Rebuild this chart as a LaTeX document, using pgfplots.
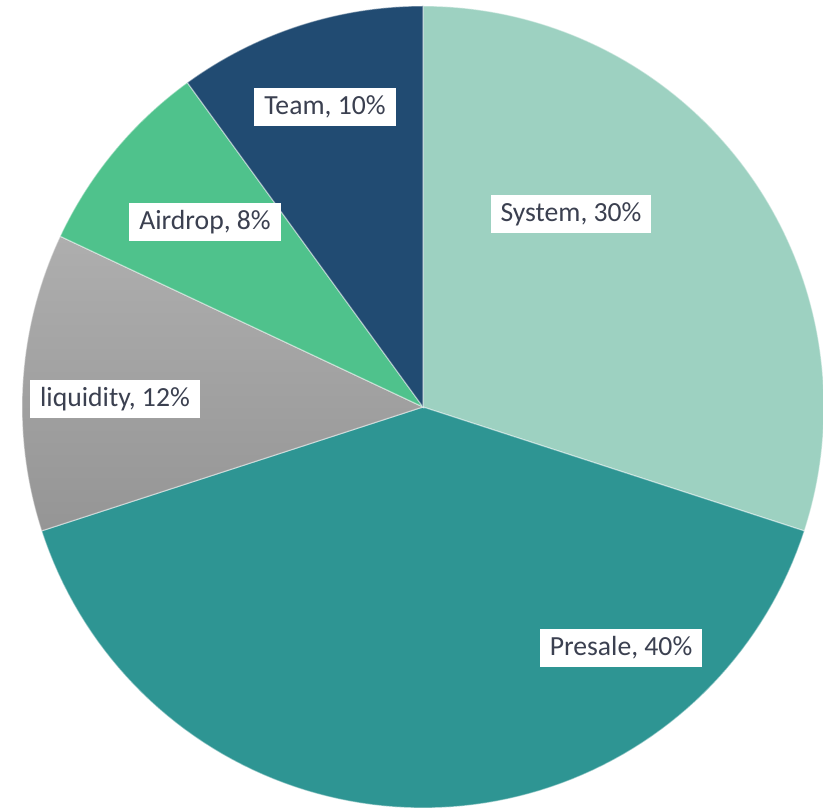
\documentclass[border=0pt]{standalone}
\usepackage{pgfplots}
\pgfplotsset{compat=1.18}
\usepackage{fontspec}
\setmainfont{Carlito}

\definecolor{cSystem}{HTML}{9DD1C1}
\definecolor{cPresale}{HTML}{2E9593}
\definecolor{cLiqTop}{HTML}{AEAEAE}
\definecolor{cLiqBot}{HTML}{959595}
\definecolor{cAirdrop}{HTML}{4FC28C}
\definecolor{cTeam}{HTML}{214B72}
\definecolor{cText}{HTML}{3B4050}

% pie centre and radius, in pixel units of the axis
\def\cx{423}
\def\cy{404}
\def\rr{401}

% #1 share before this slice, #2 share of the slice, #3 fill options
\newcommand{\slice}[3]{%
  \pgfmathsetmacro\aA{90-3.6*#1}%
  \pgfmathsetmacro\aB{90-3.6*(#1+#2)}%
  \edef\tmp{\noexpand\addplot[#3, draw=white, draw opacity=0.45, line width=0.35pt,
    domain=\aB:\aA, samples=90, variable=\noexpand\t]
    ({\cx+\rr*cos(\noexpand\t)},{\cy+\rr*sin(\noexpand\t)}) -- (\cx,\cy) -- cycle;}%
  \tmp
}

\tikzset{lbl/.style={fill=white, text=cText, inner xsep=3pt, inner ysep=2.2pt,
  font=\fontsize{8.3pt}{9pt}\selectfont}}

\begin{document}
\begin{tikzpicture}
\begin{axis}[
    hide axis,
    scale only axis,
    width=246.9pt, height=243.3pt,
    xmin=0, xmax=823, ymin=0, ymax=811,
  ]
  % System 30, Presale 40, liquidity 12, Airdrop 8, Team 10
  \slice{0}{30}{fill=cSystem}
  \slice{30}{40}{fill=cPresale}
  \slice{70}{12}{top color=cLiqTop, bottom color=cLiqBot}
  \slice{82}{8}{fill=cAirdrop}
  \slice{90}{10}{fill=cTeam}

  \node[lbl] at (axis cs:571,597) {System, 30\%};
  \node[lbl] at (axis cs:621,163) {Presale, 40\%};
  \node[lbl] at (axis cs:115,412) {liquidity, 12\%};
  \node[lbl] at (axis cs:205,589) {Airdrop, 8\%};
  \node[lbl] at (axis cs:325,704) {Team, 10\%};
\end{axis}
\pgfresetboundingbox
\path (current axis.south west) rectangle (current axis.north east);
\end{tikzpicture}
\end{document}
